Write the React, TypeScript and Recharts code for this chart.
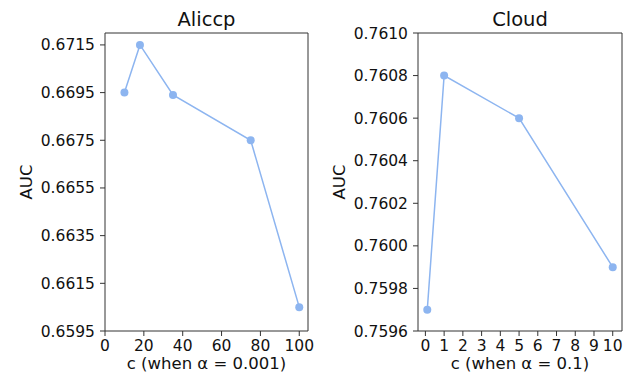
import React from "react";
import { LineChart, Line, XAxis, YAxis } from "recharts";

// Aliccp panel (alpha = 0.001)
const aliccpC = [10, 18, 35, 75, 100];
const aliccpAuc = [0.6695, 0.6715, 0.6694, 0.6675, 0.6605];
const aliccpXTicks = [0, 20, 40, 60, 80, 100];
const aliccpYTicks = [0.6595, 0.6615, 0.6635, 0.6655, 0.6675, 0.6695, 0.6715];

// Cloud panel (alpha = 0.1)
const cloudC = [0.1, 1, 5, 10];
const cloudAuc = [0.7597, 0.7608, 0.7606, 0.7599];
const cloudXTicks = [0, 1, 2, 3, 4, 5, 6, 7, 8, 9, 10];
const cloudYTicks = [0.7596, 0.7598, 0.76, 0.7602, 0.7604, 0.7606, 0.7608, 0.761];

const FONT = "'DejaVu Sans', sans-serif";
const LINE = "#8db5f0";
const SPINE = "#333";
const W = 631;
const H = 378;

type PanelProps = {
  xs: number[];
  ys: number[];
  xTicks: number[];
  yTicks: number[];
  xDomain: [number, number];
  yDomain: [number, number];
  left: number;
  width: number;
  margin: { top: number; right: number; bottom: number; left: number };
};

function Panel({ xs, ys, xTicks, yTicks, xDomain, yDomain, left, width, margin }: PanelProps) {
  const data = xs.map((c, i) => ({ c, auc: ys[i] }));
  const tick = { fill: "#111", fontSize: 15.5, fontFamily: FONT };
  return (
    <div style={{ position: "absolute", left, top: 0 }}>
      <LineChart width={width} height={H} data={data} margin={margin}>
        <XAxis
          type="number"
          dataKey="c"
          domain={xDomain}
          ticks={xTicks}
          allowDataOverflow
          interval={0}
          height={1}
          tick={tick}
          tickSize={5}
          tickMargin={4}
          stroke={SPINE}
          tickLine={{ stroke: SPINE }}
        />
        <XAxis
          xAxisId="top"
          orientation="top"
          type="number"
          dataKey="c"
          domain={xDomain}
          allowDataOverflow
          height={1}
          tick={false}
          tickLine={false}
          stroke={SPINE}
        />
        <YAxis
          type="number"
          domain={yDomain}
          ticks={yTicks}
          allowDataOverflow
          interval={0}
          width={1}
          tick={tick}
          tickSize={5}
          tickMargin={5}
          tickFormatter={(v: number) => v.toFixed(4)}
          stroke={SPINE}
          tickLine={{ stroke: SPINE }}
        />
        <YAxis
          yAxisId="right"
          orientation="right"
          type="number"
          domain={yDomain}
          allowDataOverflow
          width={1}
          tick={false}
          tickLine={false}
          stroke={SPINE}
        />
        <Line
          type="linear"
          dataKey="auc"
          stroke={LINE}
          strokeWidth={1.5}
          dot={{ r: 4, fill: LINE, stroke: LINE, strokeWidth: 0 }}
          isAnimationActive={false}
        />
      </LineChart>
    </div>
  );
}

export default function App() {
  const text = { fontFamily: FONT, fill: "#111" };
  return (
    <div style={{ position: "absolute", left: 0, top: 0, width: W, height: H, background: "#fff" }}>
      <Panel
        xs={aliccpC}
        ys={aliccpAuc}
        xTicks={aliccpXTicks}
        yTicks={aliccpYTicks}
        xDomain={[0, 104.5]}
        yDomain={[0.6595, 0.672]}
        left={0}
        width={315}
        margin={{ top: 32, right: 6, bottom: 46, left: 104 }}
      />
      <Panel
        xs={cloudC}
        ys={cloudAuc}
        xTicks={cloudXTicks}
        yTicks={cloudYTicks}
        xDomain={[-0.395, 10.495]}
        yDomain={[0.7596, 0.761]}
        left={315}
        width={316}
        margin={{ top: 32, right: 8, bottom: 46, left: 102 }}
      />
      <svg width={W} height={H} style={{ position: "absolute", left: 0, top: 0, pointerEvents: "none" }}>
        <text x={206.5} y={26} textAnchor="middle" fontSize={19.5} {...text}>Aliccp</text>
        <text x={520} y={26} textAnchor="middle" fontSize={19.5} {...text}>Cloud</text>
        <text x={206.5} y={369} textAnchor="middle" fontSize={16.5} {...text}>c (when α = 0.001)</text>
        <text x={520} y={369} textAnchor="middle" fontSize={16.5} {...text}>c (when α = 0.1)</text>
        <text x={32} y={182} textAnchor="middle" fontSize={16.5} transform="rotate(-90 32 182)" {...text}>AUC</text>
        <text x={345} y={182} textAnchor="middle" fontSize={16.5} transform="rotate(-90 345 182)" {...text}>AUC</text>
      </svg>
    </div>
  );
}
